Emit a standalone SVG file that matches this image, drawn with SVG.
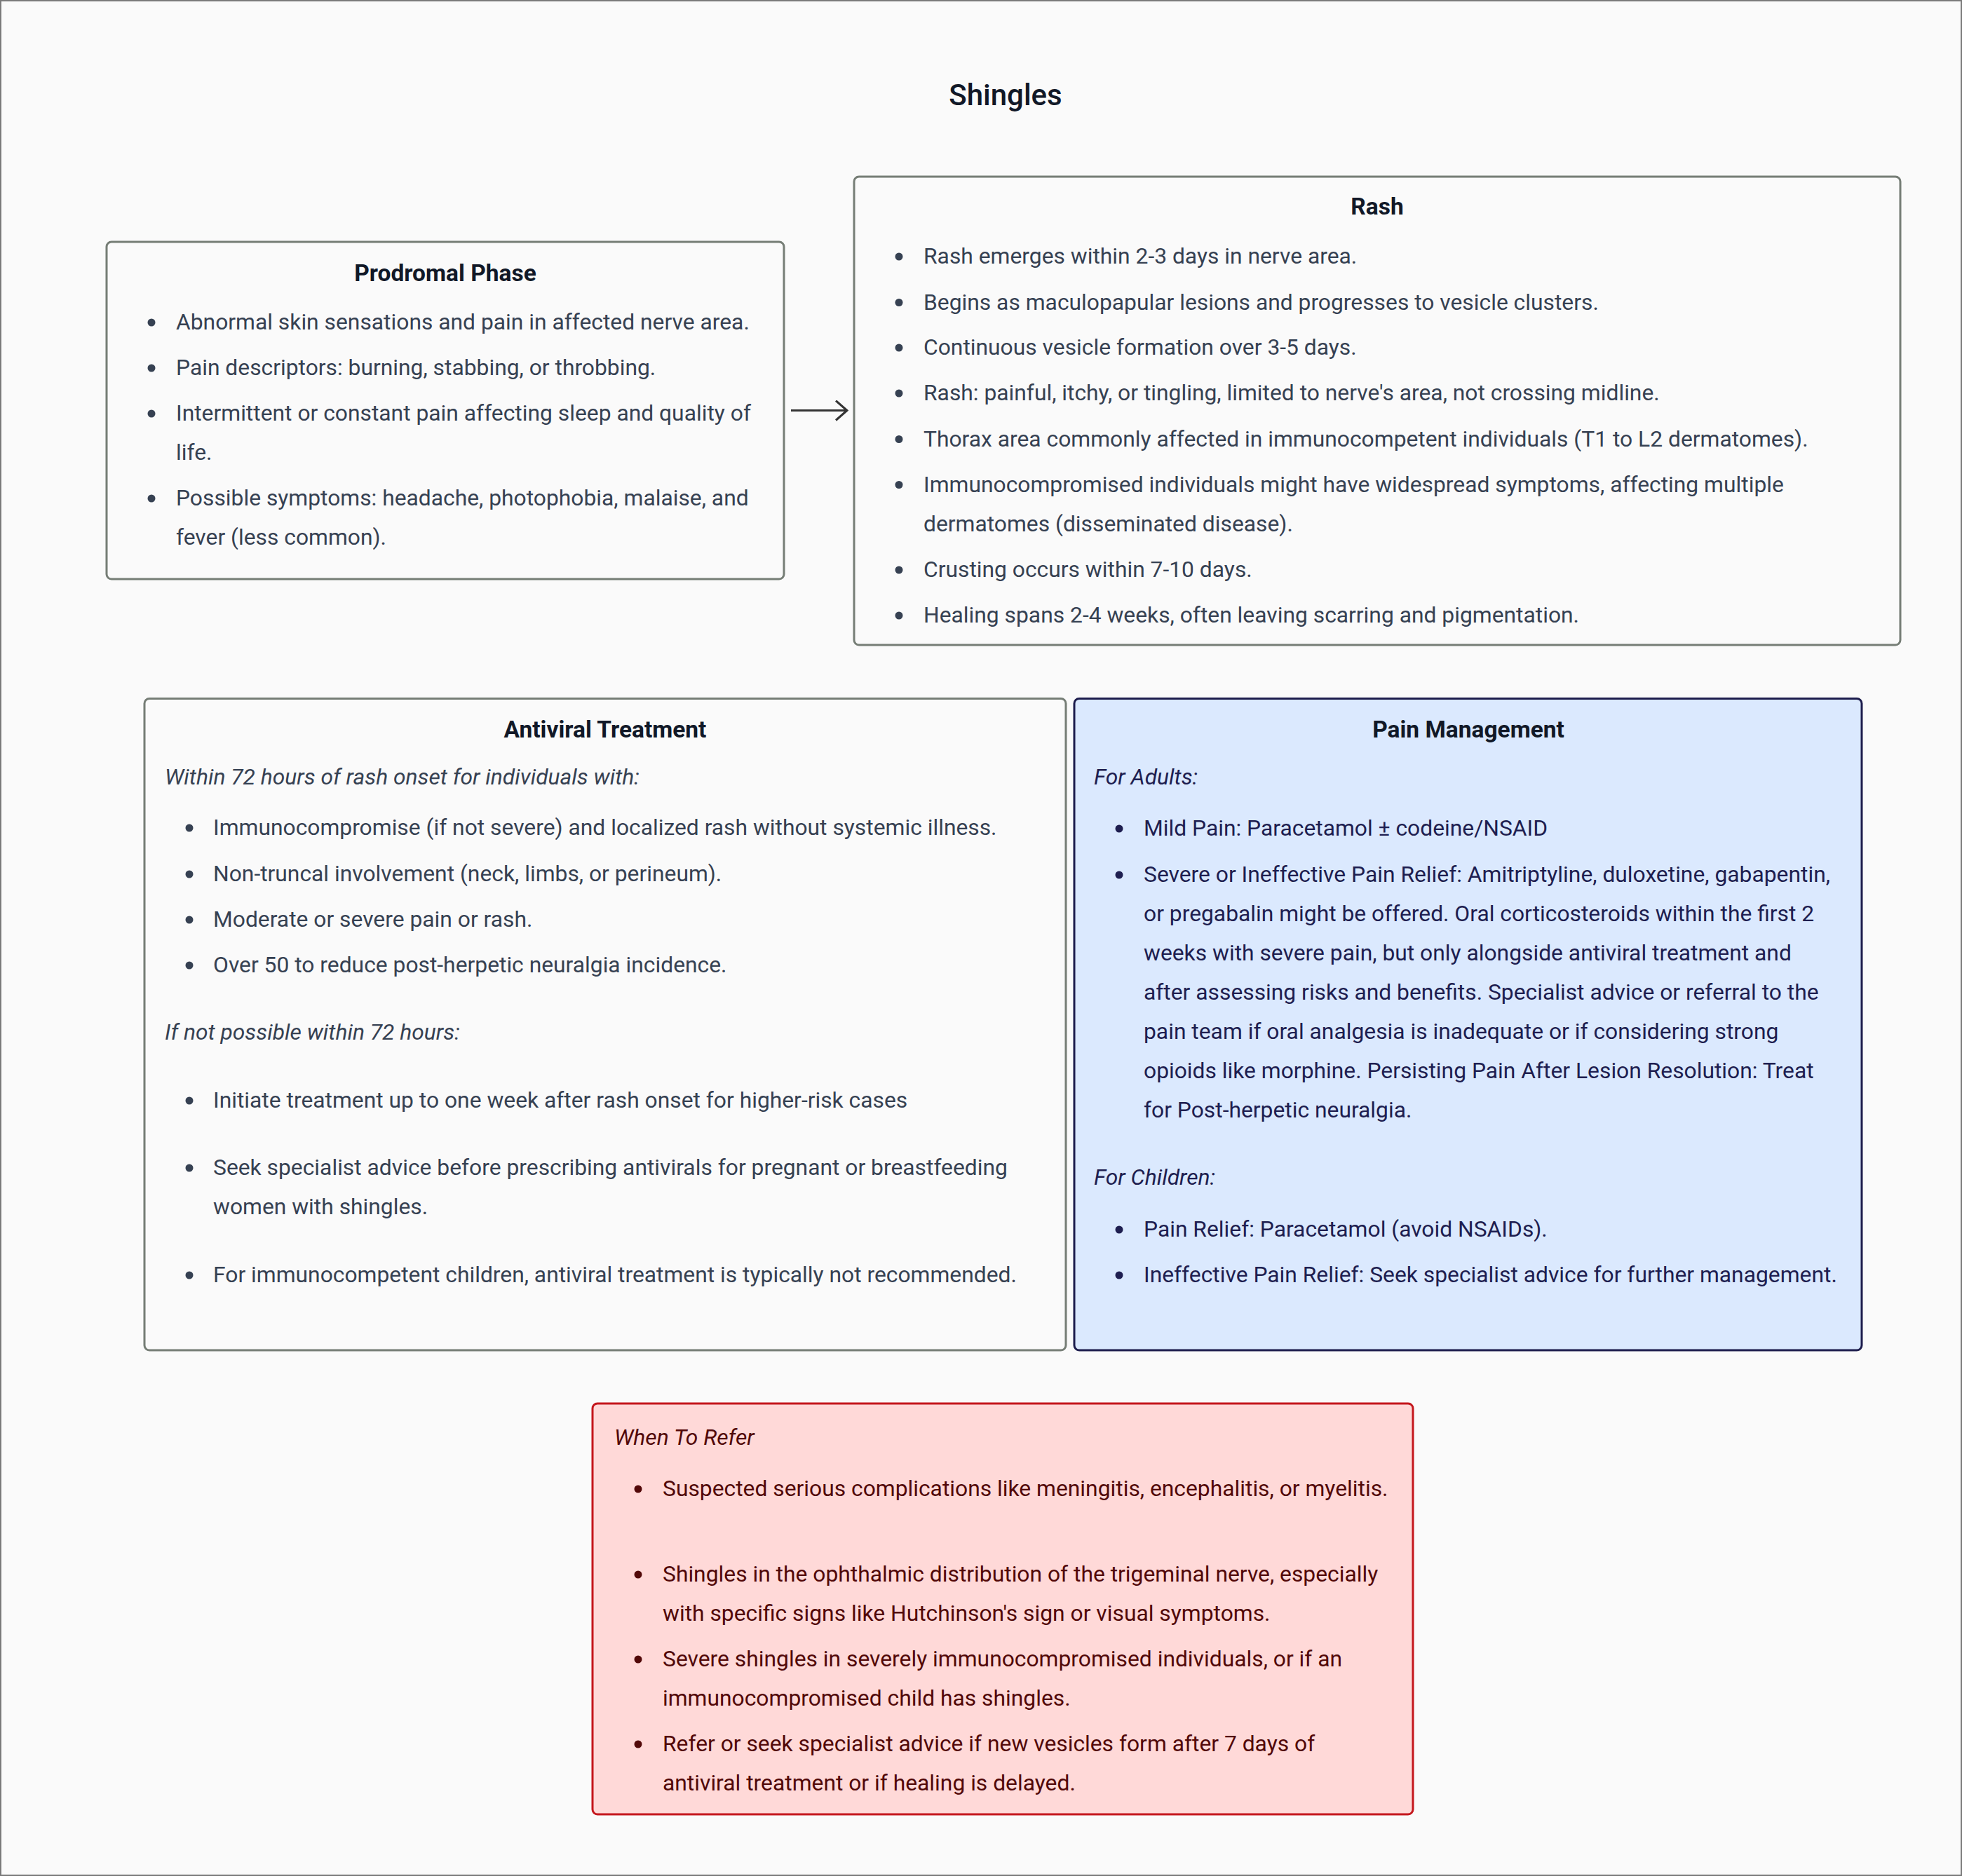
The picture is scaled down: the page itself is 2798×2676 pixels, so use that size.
<svg xmlns="http://www.w3.org/2000/svg" width="2798" height="2676" viewBox="0 0 2798 2676">
<style>
text{font-family:Roboto,"Liberation Sans",Arial,sans-serif;font-size:31.8px;fill:#364152}
.title{font-size:42px;font-weight:500;fill:#111827}
.head{font-size:33.5px;font-weight:700;fill:#111827}
.it{font-style:italic}
.box{fill:#fafafa;stroke:#757d75;stroke-width:3}
.blue{fill:#dbe9fe;stroke:#1c1c4c;stroke-width:3}
.red{fill:#ffd9d8;stroke:#c4161c;stroke-width:3}
.dot{fill:#364152}
.pain text{fill:#1e1e50}
.pain .dot{fill:#1e1e50}
.pain .head{fill:#111827}
.refer text{fill:#520808}
.refer .dot{fill:#520808}
.conn{stroke:#333333;stroke-width:3;fill:none}
</style>
<defs>
<marker id="arr" viewBox="0 0 20 30" refX="18" refY="15" markerWidth="20" markerHeight="30" markerUnits="userSpaceOnUse" orient="auto">
<path d="M2,1 L18,15 L2,29" fill="none" stroke="#333333" stroke-width="3"/>
</marker>
</defs>
<rect x="0" y="0" width="2798" height="2676" fill="#fafafa"/>
<rect x="1" y="1" width="2796" height="2674" fill="none" stroke="#7a7a7a" stroke-width="2"/>
<text class="title" x="1434" y="150" text-anchor="middle">Shingles</text>

<g id="connectors">
<line class="conn" x1="1128" y1="585.5" x2="1208" y2="585.5" marker-end="url(#arr)"/>
</g>

<g id="prodromal">
<rect class="box" x="152" y="345" width="966" height="481" rx="7"/>
<g transform="translate(0,2)">
<text class="head" x="635" y="399" text-anchor="middle">Prodromal Phase</text>
<circle class="dot" cx="216" cy="458" r="5.5"/>
<text x="251" y="468">Abnormal skin sensations and pain in affected nerve area.</text>
<circle class="dot" cx="216" cy="523" r="5.5"/>
<text x="251" y="533">Pain descriptors: burning, stabbing, or throbbing.</text>
<circle class="dot" cx="216" cy="588" r="5.5"/>
<text x="251" y="598">Intermittent or constant pain affecting sleep and quality of</text>
<text x="251" y="654">life.</text>
<circle class="dot" cx="216" cy="709" r="5.5"/>
<text x="251" y="719">Possible symptoms: headache, photophobia, malaise, and</text>
<text x="251" y="775">fever (less common).</text>
</g>
</g>

<g id="rash">
<rect class="box" x="1218" y="252" width="1492" height="668" rx="7"/>
<g transform="translate(0,2)">
<text class="head" x="1964" y="304" text-anchor="middle">Rash</text>
<circle class="dot" cx="1282" cy="364" r="5.5"/>
<text x="1317" y="374">Rash emerges within 2-3 days in nerve area.</text>
<circle class="dot" cx="1282" cy="429.5" r="5.5"/>
<text x="1317" y="439.5">Begins as maculopapular lesions and progresses to vesicle clusters.</text>
<circle class="dot" cx="1282" cy="494" r="5.5"/>
<text x="1317" y="504">Continuous vesicle formation over 3-5 days.</text>
<circle class="dot" cx="1282" cy="559" r="5.5"/>
<text x="1317" y="569">Rash: painful, itchy, or tingling, limited to nerve's area, not crossing midline.</text>
<circle class="dot" cx="1282" cy="624.5" r="5.5"/>
<text x="1317" y="634.5">Thorax area commonly affected in immunocompetent individuals (T1 to L2 dermatomes).</text>
<circle class="dot" cx="1282" cy="689.5" r="5.5"/>
<text x="1317" y="699.5">Immunocompromised individuals might have widespread symptoms, affecting multiple</text>
<text x="1317" y="755.5">dermatomes (disseminated disease).</text>
<circle class="dot" cx="1282" cy="811" r="5.5"/>
<text x="1317" y="821">Crusting occurs within 7-10 days.</text>
<circle class="dot" cx="1282" cy="876" r="5.5"/>
<text x="1317" y="886">Healing spans 2-4 weeks, often leaving scarring and pigmentation.</text>
</g>
</g>

<g id="antiviral">
<rect class="box" x="206" y="996.5" width="1314" height="929.5" rx="7"/>
<g transform="translate(0,3)">
<text class="head" x="863" y="1049" text-anchor="middle">Antiviral Treatment</text>
<text class="it" x="235" y="1116">Within 72 hours of rash onset for individuals with:</text>
<circle class="dot" cx="270" cy="1178" r="5.5"/>
<text x="304" y="1188">Immunocompromise (if not severe) and localized rash without systemic illness.</text>
<circle class="dot" cx="270" cy="1244" r="5.5"/>
<text x="304" y="1254">Non-truncal involvement (neck, limbs, or perineum).</text>
<circle class="dot" cx="270" cy="1309" r="5.5"/>
<text x="304" y="1319">Moderate or severe pain or rash.</text>
<circle class="dot" cx="270" cy="1374" r="5.5"/>
<text x="304" y="1384">Over 50 to reduce post-herpetic neuralgia incidence.</text>
<text class="it" x="235" y="1480">If not possible within 72 hours:</text>
<circle class="dot" cx="270" cy="1567" r="5.5"/>
<text x="304" y="1577">Initiate treatment up to one week after rash onset for higher-risk cases</text>
<circle class="dot" cx="270" cy="1663" r="5.5"/>
<text x="304" y="1673">Seek specialist advice before prescribing antivirals for pregnant or breastfeeding</text>
<text x="304" y="1729">women with shingles.</text>
<circle class="dot" cx="270" cy="1816" r="5.5"/>
<text x="304" y="1826">For immunocompetent children, antiviral treatment is typically not recommended.</text>
</g>
</g>

<g id="pain" class="pain">
<rect class="blue" x="1532" y="996.5" width="1123" height="929.5" rx="7"/>
<g transform="translate(0,3)">
<text class="head" x="2094" y="1049" text-anchor="middle">Pain Management</text>
<text class="it" x="1560" y="1116">For Adults:</text>
<circle class="dot" cx="1596" cy="1179" r="5.5"/>
<text x="1631" y="1189">Mild Pain: Paracetamol ± codeine/NSAID</text>
<circle class="dot" cx="1596" cy="1245" r="5.5"/>
<text x="1631" y="1255">Severe or Ineffective Pain Relief: Amitriptyline, duloxetine, gabapentin,</text>
<text x="1631" y="1311">or pregabalin might be offered. Oral corticosteroids within the first 2</text>
<text x="1631" y="1367">weeks with severe pain, but only alongside antiviral treatment and</text>
<text x="1631" y="1423">after assessing risks and benefits. Specialist advice or referral to the</text>
<text x="1631" y="1479">pain team if oral analgesia is inadequate or if considering strong</text>
<text x="1631" y="1535">opioids like morphine. Persisting Pain After Lesion Resolution: Treat</text>
<text x="1631" y="1591">for Post-herpetic neuralgia.</text>
<text class="it" x="1560" y="1687">For Children:</text>
<circle class="dot" cx="1596" cy="1751" r="5.5"/>
<text x="1631" y="1761">Pain Relief: Paracetamol (avoid NSAIDs).</text>
<circle class="dot" cx="1596" cy="1816" r="5.5"/>
<text x="1631" y="1826">Ineffective Pain Relief: Seek specialist advice for further management.</text>
</g>
</g>

<g id="refer" class="refer">
<rect class="red" x="845" y="2002" width="1170" height="586" rx="7"/>
<g transform="translate(0,3)">
<text class="it" x="876" y="2058">When To Refer</text>
<circle class="dot" cx="910" cy="2121" r="5.5"/>
<text x="945" y="2131">Suspected serious complications like meningitis, encephalitis, or myelitis.</text>
<circle class="dot" cx="910" cy="2243" r="5.5"/>
<text x="945" y="2253">Shingles in the ophthalmic distribution of the trigeminal nerve, especially</text>
<text x="945" y="2309">with specific signs like Hutchinson's sign or visual symptoms.</text>
<circle class="dot" cx="910" cy="2364" r="5.5"/>
<text x="945" y="2374">Severe shingles in severely immunocompromised individuals, or if an</text>
<text x="945" y="2430">immunocompromised child has shingles.</text>
<circle class="dot" cx="910" cy="2485" r="5.5"/>
<text x="945" y="2495">Refer or seek specialist advice if new vesicles form after 7 days of</text>
<text x="945" y="2551">antiviral treatment or if healing is delayed.</text>
</g>
</g>
</svg>
